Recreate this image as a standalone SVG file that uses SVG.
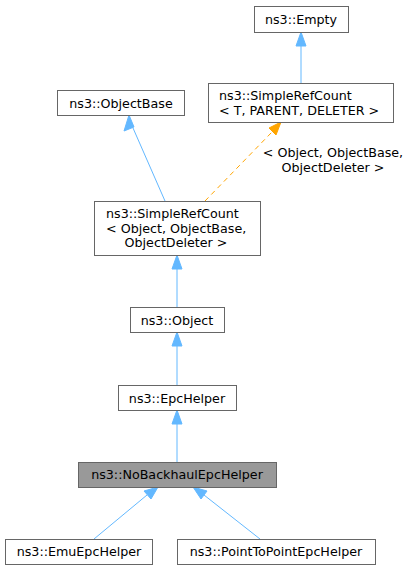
<svg xmlns="http://www.w3.org/2000/svg" width="411" height="571" viewBox="0 0 411 571">
<style>
.n{fill:#fff;stroke:#666;stroke-width:1}
.h{fill:#999;stroke:#666;stroke-width:1}
text{font-family:"DejaVu Sans",sans-serif;font-size:12.7px;fill:#000}
.e{stroke:#63b8ff;stroke-width:1;fill:none}
.a{fill:#63b8ff;stroke:#63b8ff}
.d{stroke:#ffa500;stroke-width:1;fill:none;stroke-dasharray:5,4}
.ao{fill:#ffa500;stroke:#ffa500}
</style>
<rect width="411" height="571" fill="#fff"/>
<g id="connectors">
<line class="e" x1="301" y1="83" x2="301" y2="46"/>
<polygon class="a" points="301,32 296,46 306,46"/>
<line class="e" x1="165" y1="201" x2="133" y2="128"/>
<polygon class="a" points="129,115 124,131 134,127"/>
<line class="d" x1="205" y1="201" x2="272" y2="132"/>
<polygon class="ao" points="281,122 269,128 276,135"/>
<text x="333" y="157" text-anchor="middle">&lt; Object, ObjectBase,</text>
<text x="333" y="171.5" text-anchor="middle">ObjectDeleter &gt;</text>
<line class="e" x1="177" y1="307" x2="177" y2="269"/>
<polygon class="a" points="177,255 172,269 182,269"/>
<line class="e" x1="177" y1="385" x2="177" y2="346"/>
<polygon class="a" points="177,332 172,346 182,346"/>
<line class="e" x1="177" y1="462" x2="177" y2="424"/>
<polygon class="a" points="177,410 172,424 182,424"/>
<line class="e" x1="94" y1="539" x2="147" y2="495"/>
<polygon class="a" points="158,487 144,491 151,499"/>
<line class="e" x1="260" y1="539" x2="204" y2="495"/>
<polygon class="a" points="193,487 201,499 207,491"/>
</g>
<g id="node-empty">
<rect class="n" x="254.5" y="6.5" width="94" height="26"/>
<text x="301" y="23.5" text-anchor="middle">ns3::Empty</text>
</g>
<g id="node-simplerefcount-t">
<rect class="n" x="208.5" y="83.5" width="185" height="39"/>
<text x="219" y="100">ns3::SimpleRefCount</text>
<text x="219" y="114.5">&lt; T, PARENT, DELETER &gt;</text>
</g>
<g id="node-objectbase">
<rect class="n" x="57.5" y="90.5" width="127" height="25"/>
<text x="121" y="107.5" text-anchor="middle">ns3::ObjectBase</text>
</g>
<g id="node-simplerefcount-object">
<rect class="n" x="94.5" y="201.5" width="166" height="54"/>
<text x="106" y="218">ns3::SimpleRefCount</text>
<text x="106" y="232.5">&lt; Object, ObjectBase,</text>
<text x="176" y="247" text-anchor="middle">ObjectDeleter &gt;</text>
</g>
<g id="node-object">
<rect class="n" x="130.5" y="307.5" width="94" height="25"/>
<text x="177" y="324.5" text-anchor="middle">ns3::Object</text>
</g>
<g id="node-epchelper">
<rect class="n" x="118.5" y="385.5" width="118" height="25"/>
<text x="177" y="402.5" text-anchor="middle">ns3::EpcHelper</text>
</g>
<g id="node-nobackhaul">
<rect class="h" x="78.5" y="462.5" width="198" height="25"/>
<text x="177" y="479" text-anchor="middle">ns3::NoBackhaulEpcHelper</text>
</g>
<g id="node-emu">
<rect class="n" x="5.5" y="539.5" width="147" height="25"/>
<text x="79" y="556" text-anchor="middle">ns3::EmuEpcHelper</text>
</g>
<g id="node-p2p">
<rect class="n" x="177.5" y="539.5" width="198" height="25"/>
<text x="276" y="556" text-anchor="middle">ns3::PointToPointEpcHelper</text>
</g>
</svg>
